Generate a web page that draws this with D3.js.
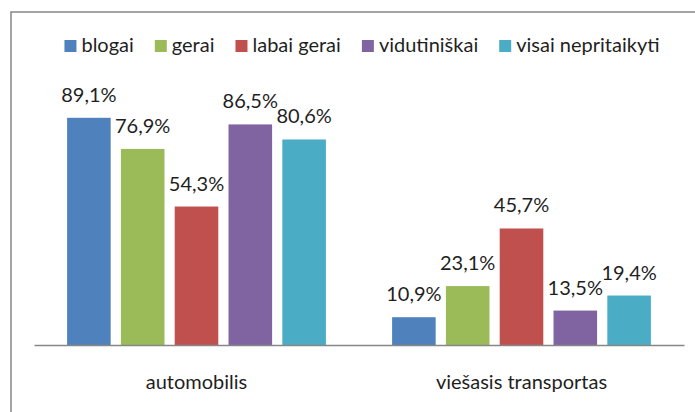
<!DOCTYPE html>
<html>
<head>
<meta charset="utf-8">
<script src="https://cdn.jsdelivr.net/npm/d3@7"></script>
<style>
  html, body { margin: 0; padding: 0; background: #fff; }
  svg { display: block; }
  text { font-family: Lato, "Open Sans", sans-serif; fill: #1f1f1f; }
</style>
</head>
<body>
<svg id="chart" width="695" height="412"></svg>
<script>
// Transport categories and answer groups
const categories = ["automobilis", "viešasis transportas"];
const seriesNames = ["blogai", "gerai", "labai gerai", "vidutiniškai", "visai nepritaikyti"];
const seriesColors = ["#4F81BD", "#9BBB59", "#C0504D", "#8064A2", "#4BACC6"];

// Shares (%) for each answer group, one value per category
const blogai = [89.1, 10.9];
const gerai = [76.9, 23.1];
const labaiGerai = [54.3, 45.7];
const vidutiniskai = [86.5, 13.5];
const visaiNepritaikyti = [80.6, 19.4];
const seriesValues = [blogai, gerai, labaiGerai, vidutiniskai, visaiNepritaikyti];

const fmt = v => d3.format(".1f")(v).replace(".", ",") + "%";

const svg = d3.select("#chart");

// outer frame
svg.append("rect")
  .attr("x", 11).attr("y", 12)
  .attr("width", 800).attr("height", 500)
  .attr("fill", "none")
  .attr("stroke", "#878787")
  .attr("stroke-width", 1.5);

const plot = { left: 34, right: 684, top: 90, bottom: 345 };

const x0 = d3.scaleBand()
  .domain(categories)
  .range([plot.left, plot.right])
  .paddingInner(0).paddingOuter(0);

const x1 = d3.scaleBand()
  .domain(seriesNames)
  .range([0, x0.bandwidth()])
  .paddingInner(0.19)
  .paddingOuter(0.615);

const y = d3.scaleLinear().domain([0, 100]).range([plot.bottom, plot.top]);

// bars and value labels
seriesNames.forEach((name, si) => {
  const g = svg.append("g");
  const data = categories.map((c, ci) => ({ c, v: seriesValues[si][ci] }));
  g.selectAll("rect").data(data).join("rect")
    .attr("x", d => x0(d.c) + x1(name))
    .attr("y", d => y(d.v))
    .attr("width", x1.bandwidth())
    .attr("height", d => y(0) - y(d.v))
    .attr("fill", seriesColors[si]);
  g.selectAll("text").data(data).join("text")
    .attr("x", d => x0(d.c) + x1(name) + x1.bandwidth() / 2)
    .attr("y", d => y(d.v) - 16)
    .attr("text-anchor", "middle")
    .attr("font-size", 20)
    .text(d => fmt(d.v));
});

// category axis
const axis = d3.axisBottom(x0).tickSize(0).tickPadding(30);
const axG = svg.append("g")
  .attr("transform", `translate(0,${plot.bottom})`)
  .call(axis);
axG.select(".domain").attr("stroke", "#878787").attr("stroke-width", 1.5);
axG.selectAll(".tick text")
  .attr("font-size", 20)
  .attr("font-family", "Lato, 'Open Sans', sans-serif")
  .attr("fill", "#1f1f1f");

// legend
const legend = svg.append("g");
const items = legend.selectAll("g").data(seriesNames).join("g");
items.append("rect")
  .attr("y", 40).attr("width", 12).attr("height", 12)
  .attr("fill", (d, i) => seriesColors[i]);
items.append("text")
  .attr("x", 17).attr("y", 52)
  .attr("font-size", 20)
  .text(d => d);
let xpos = 0;
const offsets = [];
items.each(function () {
  offsets.push(xpos);
  const w = this.querySelector("text").getComputedTextLength();
  xpos += 17 + w + 21;
});
const total = xpos - 21;
const startX = 362 - total / 2;
items.attr("transform", (d, i) => `translate(${startX + offsets[i]},0)`);
</script>
</body>
</html>
